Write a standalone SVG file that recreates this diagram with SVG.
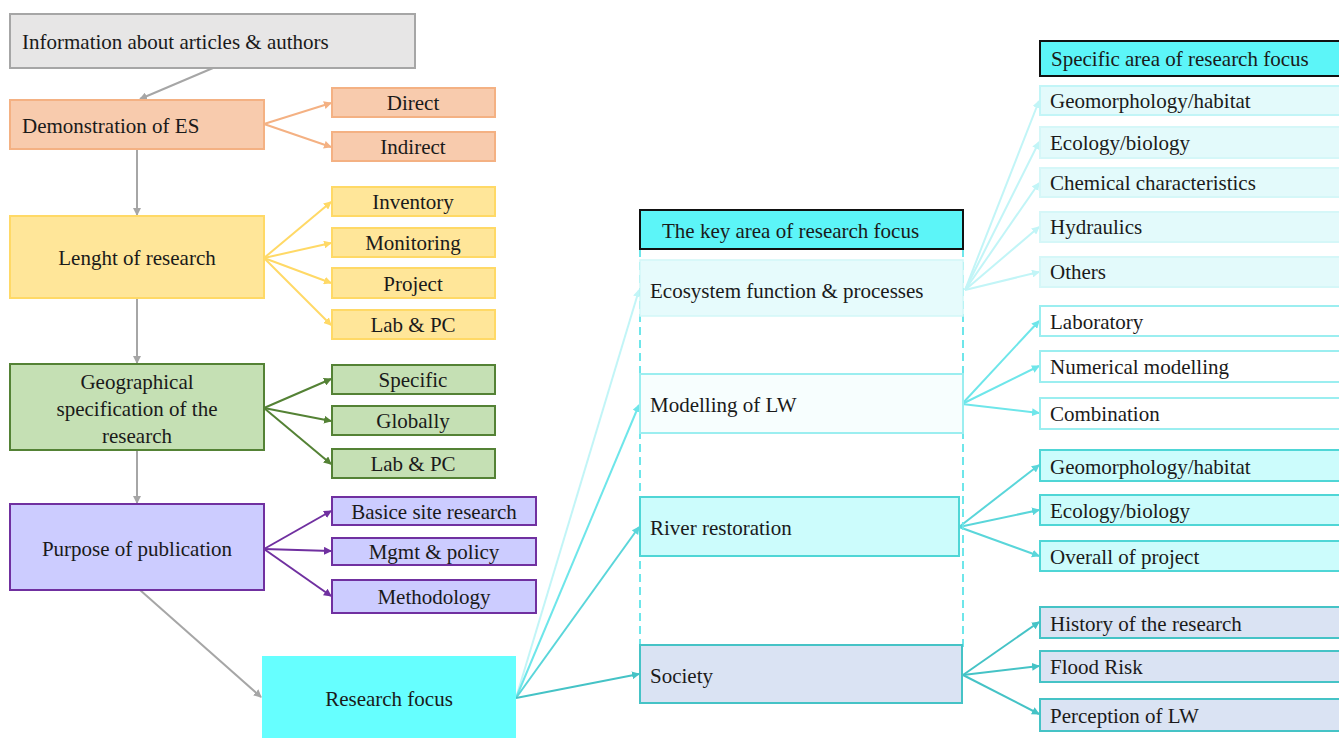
<svg xmlns="http://www.w3.org/2000/svg" width="1339" height="738" viewBox="0 0 1339 738">
<defs>
<style>
.t{font-family:"Liberation Serif","Times New Roman",Times,"DejaVu Serif",serif;font-size:21px;fill:#1a1a1a}
.c{text-anchor:middle}
.l{stroke-width:2;fill:none}
</style>
<marker id="mg" markerWidth="8" markerHeight="8" refX="7" refY="4" orient="auto" markerUnits="userSpaceOnUse"><path d="M0,0 L8,4 L0,8 z" fill="#a6a6a6"/></marker>
<marker id="mo" markerWidth="8" markerHeight="8" refX="7" refY="4" orient="auto" markerUnits="userSpaceOnUse"><path d="M0,0 L8,4 L0,8 z" fill="#f4b183"/></marker>
<marker id="my" markerWidth="8" markerHeight="8" refX="7" refY="4" orient="auto" markerUnits="userSpaceOnUse"><path d="M0,0 L8,4 L0,8 z" fill="#ffd966"/></marker>
<marker id="mgr" markerWidth="8" markerHeight="8" refX="7" refY="4" orient="auto" markerUnits="userSpaceOnUse"><path d="M0,0 L8,4 L0,8 z" fill="#548235"/></marker>
<marker id="mp" markerWidth="8" markerHeight="8" refX="7" refY="4" orient="auto" markerUnits="userSpaceOnUse"><path d="M0,0 L8,4 L0,8 z" fill="#7030a0"/></marker>
<marker id="mc1" markerWidth="8" markerHeight="8" refX="7" refY="4" orient="auto" markerUnits="userSpaceOnUse"><path d="M0,0 L8,4 L0,8 z" fill="#c2f5f7"/></marker>
<marker id="mc2" markerWidth="8" markerHeight="8" refX="7" refY="4" orient="auto" markerUnits="userSpaceOnUse"><path d="M0,0 L8,4 L0,8 z" fill="#6ee6ea"/></marker>
<marker id="mc3" markerWidth="8" markerHeight="8" refX="7" refY="4" orient="auto" markerUnits="userSpaceOnUse"><path d="M0,0 L8,4 L0,8 z" fill="#5ad6da"/></marker>
<marker id="mc4" markerWidth="8" markerHeight="8" refX="7" refY="4" orient="auto" markerUnits="userSpaceOnUse"><path d="M0,0 L8,4 L0,8 z" fill="#45c3c6"/></marker>
</defs>
<rect width="1339" height="738" fill="#ffffff"/>

<g id="connectors">
<line class="l" x1="213" y1="68" x2="140" y2="99" stroke="#a6a6a6" marker-end="url(#mg)"/>
<line class="l" x1="137" y1="149" x2="137" y2="215" stroke="#a6a6a6" marker-end="url(#mg)"/>
<line class="l" x1="137" y1="298" x2="137" y2="363" stroke="#a6a6a6" marker-end="url(#mg)"/>
<line class="l" x1="137" y1="450" x2="137" y2="503" stroke="#a6a6a6" marker-end="url(#mg)"/>
<line class="l" x1="140" y1="590" x2="261" y2="697" stroke="#a6a6a6" marker-end="url(#mg)"/>

<line class="l" x1="264" y1="124" x2="331" y2="103" stroke="#f4b183" marker-end="url(#mo)"/>
<line class="l" x1="264" y1="124" x2="331" y2="147" stroke="#f4b183" marker-end="url(#mo)"/>

<line class="l" x1="264" y1="258" x2="331" y2="202" stroke="#ffd966" marker-end="url(#my)"/>
<line class="l" x1="264" y1="258" x2="331" y2="243" stroke="#ffd966" marker-end="url(#my)"/>
<line class="l" x1="264" y1="258" x2="331" y2="283" stroke="#ffd966" marker-end="url(#my)"/>
<line class="l" x1="264" y1="258" x2="331" y2="325" stroke="#ffd966" marker-end="url(#my)"/>

<line class="l" x1="264" y1="408" x2="331" y2="379" stroke="#548235" marker-end="url(#mgr)"/>
<line class="l" x1="264" y1="408" x2="331" y2="421" stroke="#548235" marker-end="url(#mgr)"/>
<line class="l" x1="264" y1="408" x2="331" y2="464" stroke="#548235" marker-end="url(#mgr)"/>

<line class="l" x1="264" y1="549" x2="331" y2="511" stroke="#7030a0" marker-end="url(#mp)"/>
<line class="l" x1="264" y1="549" x2="331" y2="551" stroke="#7030a0" marker-end="url(#mp)"/>
<line class="l" x1="264" y1="549" x2="331" y2="596" stroke="#7030a0" marker-end="url(#mp)"/>

<line class="l" x1="516" y1="698" x2="639" y2="290" stroke="#c2f5f7" marker-end="url(#mc1)"/>
<line class="l" x1="516" y1="698" x2="639" y2="405" stroke="#6ee6ea" marker-end="url(#mc2)"/>
<line class="l" x1="516" y1="698" x2="639" y2="527" stroke="#5ad6da" marker-end="url(#mc3)"/>
<line class="l" x1="516" y1="698" x2="639" y2="674" stroke="#45c3c6" marker-end="url(#mc4)"/>

<line class="l" x1="965" y1="290" x2="1039" y2="101" stroke="#c2f5f7" marker-end="url(#mc1)"/>
<line class="l" x1="965" y1="290" x2="1039" y2="142" stroke="#c2f5f7" marker-end="url(#mc1)"/>
<line class="l" x1="965" y1="290" x2="1039" y2="183" stroke="#c2f5f7" marker-end="url(#mc1)"/>
<line class="l" x1="965" y1="290" x2="1039" y2="227" stroke="#c2f5f7" marker-end="url(#mc1)"/>
<line class="l" x1="965" y1="290" x2="1039" y2="272" stroke="#c2f5f7" marker-end="url(#mc1)"/>

<line class="l" x1="962" y1="404" x2="1039" y2="321" stroke="#6ee6ea" marker-end="url(#mc2)"/>
<line class="l" x1="962" y1="404" x2="1039" y2="366" stroke="#6ee6ea" marker-end="url(#mc2)"/>
<line class="l" x1="962" y1="404" x2="1039" y2="413" stroke="#6ee6ea" marker-end="url(#mc2)"/>

<line class="l" x1="959" y1="527" x2="1039" y2="465" stroke="#5ad6da" marker-end="url(#mc3)"/>
<line class="l" x1="959" y1="527" x2="1039" y2="510" stroke="#5ad6da" marker-end="url(#mc3)"/>
<line class="l" x1="959" y1="527" x2="1039" y2="556" stroke="#5ad6da" marker-end="url(#mc3)"/>

<line class="l" x1="963" y1="675" x2="1039" y2="622" stroke="#45c3c6" marker-end="url(#mc4)"/>
<line class="l" x1="963" y1="675" x2="1039" y2="666" stroke="#45c3c6" marker-end="url(#mc4)"/>
<line class="l" x1="963" y1="675" x2="1039" y2="714" stroke="#45c3c6" marker-end="url(#mc4)"/>
</g>

<g id="info"><rect x="10" y="14" width="405" height="54" fill="#e7e6e6" stroke="#a6a6a6" stroke-width="2"/><text class="t" font-family="Liberation Serif" x="22" y="49">Information  about articles  &amp; authors</text></g>

<g id="demo"><rect x="10" y="100" width="254" height="49" fill="#f8cbad" stroke="#f4b183" stroke-width="2"/><text class="t" x="22" y="133">Demonstration  of ES</text></g>
<g id="direct"><rect x="332" y="88" width="163" height="29" fill="#f8cbad" stroke="#f4b183" stroke-width="2"/><text class="t c" x="413" y="110">Direct</text></g>
<g id="indirect"><rect x="332" y="132" width="163" height="29" fill="#f8cbad" stroke="#f4b183" stroke-width="2"/><text class="t c" x="413" y="154">Indirect</text></g>

<g id="length"><rect x="10" y="216" width="254" height="82" fill="#ffe699" stroke="#ffd966" stroke-width="2"/><text class="t c" x="137" y="265">Lenght  of research</text></g>
<g id="inventory"><rect x="332" y="187" width="163" height="29" fill="#ffe699" stroke="#ffd966" stroke-width="2"/><text class="t c" x="413" y="209">Inventory</text></g>
<g id="monitoring"><rect x="332" y="228" width="163" height="29" fill="#ffe699" stroke="#ffd966" stroke-width="2"/><text class="t c" x="413" y="250">Monitoring</text></g>
<g id="project"><rect x="332" y="268" width="163" height="30" fill="#ffe699" stroke="#ffd966" stroke-width="2"/><text class="t c" x="413" y="291">Project</text></g>
<g id="labpc1"><rect x="332" y="310" width="163" height="29" fill="#ffe699" stroke="#ffd966" stroke-width="2"/><text class="t c" x="413" y="332">Lab &amp; PC</text></g>

<g id="geo"><rect x="10" y="364" width="254" height="86" fill="#c5e0b4" stroke="#548235" stroke-width="2"/><text class="t c" x="137" y="389">Geographical</text><text class="t c" x="137" y="416">specification  of the</text><text class="t c" x="137" y="443">research</text></g>
<g id="specific"><rect x="332" y="365" width="163" height="29" fill="#c5e0b4" stroke="#548235" stroke-width="2"/><text class="t c" x="413" y="387">Specific</text></g>
<g id="globally"><rect x="332" y="406" width="163" height="29" fill="#c5e0b4" stroke="#548235" stroke-width="2"/><text class="t c" x="413" y="428">Globally</text></g>
<g id="labpc2"><rect x="332" y="449" width="163" height="29" fill="#c5e0b4" stroke="#548235" stroke-width="2"/><text class="t c" x="413" y="471">Lab &amp; PC</text></g>

<g id="purpose"><rect x="10" y="504" width="254" height="86" fill="#ccccff" stroke="#7030a0" stroke-width="2"/><text class="t c" x="137" y="556">Purpose of publication</text></g>
<g id="basic"><rect x="332" y="497" width="204" height="28" fill="#ccccff" stroke="#7030a0" stroke-width="2"/><text class="t c" x="434" y="519">Basice site research</text></g>
<g id="mgmt"><rect x="332" y="538" width="204" height="27" fill="#ccccff" stroke="#7030a0" stroke-width="2"/><text class="t c" x="434" y="559">Mgmt  &amp; policy</text></g>
<g id="method"><rect x="332" y="580" width="204" height="33" fill="#ccccff" stroke="#7030a0" stroke-width="2"/><text class="t c" x="434" y="604">Methodology</text></g>

<g id="focus"><rect x="262" y="656" width="254" height="82" fill="#66ffff"/><text class="t c" x="389" y="706">Research  focus</text></g>

<g id="keyarea">
<line x1="640" y1="249" x2="640" y2="650" stroke="#6ee6ea" stroke-width="2" stroke-dasharray="8,5"/>
<line x1="963" y1="249" x2="963" y2="650" stroke="#6ee6ea" stroke-width="2" stroke-dasharray="8,5"/>
<rect x="640" y="210" width="323" height="39" fill="#5cf5f8" stroke="#111" stroke-width="2"/><text class="t" x="662" y="238">The key  area  of research  focus</text></g>
<g id="ecosystem"><rect x="640" y="260" width="323" height="56" fill="#e6fbfc" stroke="#d2f7f8" stroke-width="1.5"/><text class="t" x="650" y="298">Ecosystem  function &amp; processes</text></g>
<g id="modelling"><rect x="640" y="374" width="323" height="59" fill="#f7fefe" stroke="#9beef0" stroke-width="2"/><text class="t" x="650" y="412">Modelling  of LW</text></g>
<g id="river"><rect x="640" y="497" width="319" height="59" fill="#ccfcfc" stroke="#4fd6d6" stroke-width="2"/><text class="t" x="650" y="535">River restoration</text></g>
<g id="society"><rect x="640" y="645" width="322" height="58" fill="#dae3f3" stroke="#45c3c6" stroke-width="2"/><text class="t" x="650" y="683">Society</text></g>

<g id="specarea"><rect x="1040" y="41" width="305" height="35" fill="#5cf5f8" stroke="#111" stroke-width="2"/><text class="t" x="1051" y="66">Specific  area  of research  focus</text></g>
<g id="geomorph1"><rect x="1040" y="86" width="305" height="29" fill="#e3fafb" stroke="#c2f5f7" stroke-width="2"/><text class="t" x="1050" y="108">Geomorphology/habitat</text></g>
<g id="ecology1"><rect x="1040" y="127" width="305" height="31" fill="#e3fafb" stroke="#d5f7f8" stroke-width="2"/><text class="t" x="1050" y="150">Ecology/biology</text></g>
<g id="chemical"><rect x="1040" y="168" width="305" height="29" fill="#e3fafb" stroke="#d5f7f8" stroke-width="2"/><text class="t" x="1050" y="190">Chemical  characteristics</text></g>
<g id="hydraulics"><rect x="1040" y="212" width="305" height="30" fill="#e3fafb" stroke="#d5f7f8" stroke-width="2"/><text class="t" x="1050" y="234">Hydraulics</text></g>
<g id="others"><rect x="1040" y="257" width="305" height="30" fill="#e3fafb" stroke="#d5f7f8" stroke-width="2"/><text class="t" x="1050" y="279">Others</text></g>

<g id="laboratory"><rect x="1040" y="306" width="305" height="30" fill="#ffffff" stroke="#9beef0" stroke-width="2"/><text class="t" x="1050" y="329">Laboratory</text></g>
<g id="numerical"><rect x="1040" y="351" width="305" height="31" fill="#ffffff" stroke="#9beef0" stroke-width="2"/><text class="t" x="1050" y="374">Numerical  modelling</text></g>
<g id="combination"><rect x="1040" y="398" width="305" height="31" fill="#ffffff" stroke="#9beef0" stroke-width="2"/><text class="t" x="1050" y="421">Combination</text></g>

<g id="geomorph2"><rect x="1040" y="450" width="305" height="31" fill="#ccfcfc" stroke="#4fd6d6" stroke-width="2"/><text class="t" x="1050" y="474">Geomorphology/habitat</text></g>
<g id="ecology2"><rect x="1040" y="495" width="305" height="30" fill="#ccfcfc" stroke="#4fd6d6" stroke-width="2"/><text class="t" x="1050" y="518">Ecology/biology</text></g>
<g id="overall"><rect x="1040" y="541" width="305" height="30" fill="#ccfcfc" stroke="#4fd6d6" stroke-width="2"/><text class="t" x="1050" y="564">Overall  of project</text></g>

<g id="history"><rect x="1040" y="607" width="305" height="31" fill="#dae3f3" stroke="#45c3c6" stroke-width="2"/><text class="t" x="1050" y="631">History of the research</text></g>
<g id="flood"><rect x="1040" y="651" width="305" height="31" fill="#dae3f3" stroke="#45c3c6" stroke-width="2"/><text class="t" x="1050" y="674">Flood Risk</text></g>
<g id="perception"><rect x="1040" y="699" width="305" height="32" fill="#dae3f3" stroke="#45c3c6" stroke-width="2"/><text class="t" x="1050" y="723">Perception  of LW</text></g>
</svg>
